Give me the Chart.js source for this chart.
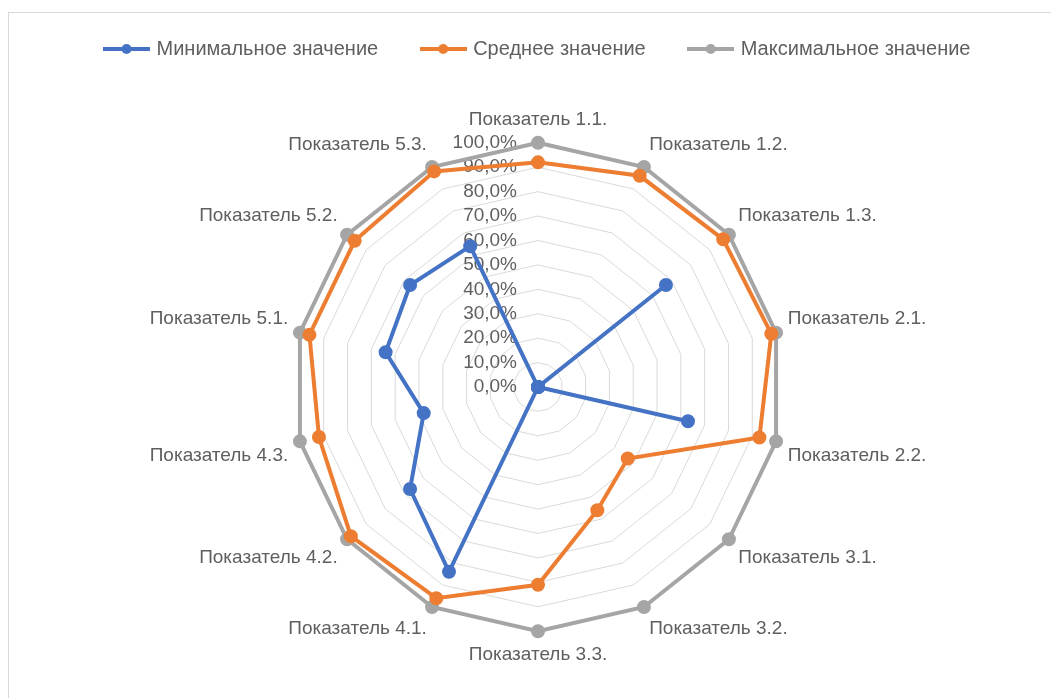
<!DOCTYPE html>
<html>
<head>
<meta charset="utf-8">
<script src="https://cdn.jsdelivr.net/npm/chart.js@4.4.1/dist/chart.umd.min.js"></script>
<style>
  html, body { margin: 0; padding: 0; background: #fff; overflow: hidden; }
  .frame { position: absolute; left: 8px; top: 12px; width: 2000px; height: 2000px; border: 1px solid #d9d9d9; }
  .wrap { position: absolute; left: 0; top: -6px; width: 1051px; height: 704px; }
</style>
</head>
<body>
<div class="frame"></div>
<div class="wrap"><canvas id="chart"></canvas></div>
<script>
const categories = [
  'Показатель 1.1.', 'Показатель 1.2.', 'Показатель 1.3.',
  'Показатель 2.1.', 'Показатель 2.2.',
  'Показатель 3.1.', 'Показатель 3.2.', 'Показатель 3.3.',
  'Показатель 4.1.', 'Показатель 4.2.', 'Показатель 4.3.',
  'Показатель 5.1.', 'Показатель 5.2.', 'Показатель 5.3.'
];
const minValues = [0, 0, 67, 0, 63, 0, 0, 0, 84, 67, 48, 64, 67, 64];
const avgValues = [92, 96, 97, 98, 93, 47, 56, 81, 96, 98, 92, 96, 96, 98];
const maxValues = [100, 100, 100, 100, 100, 100, 100, 100, 100, 100, 100, 100, 100, 100];
const seriesNames = ['Минимальное значение', 'Среднее значение', 'Максимальное значение'];
const seriesColors = ['#4472C4', '#ED7D31', '#A5A5A5'];

const fontFamily = '"Liberation Sans", Arial, sans-serif';
const textColor = '#5f5f5f';

// legend marker: line with a dot, like the office legend
function legendMarker(color) {
  const c = document.createElement('canvas');
  c.width = 47;
  c.height = 12;
  const g = c.getContext('2d');
  g.strokeStyle = color;
  g.lineWidth = 4;
  g.beginPath();
  g.moveTo(0, 6);
  g.lineTo(47, 6);
  g.stroke();
  g.fillStyle = color;
  g.beginPath();
  g.arc(23.5, 6, 5, 0, Math.PI * 2);
  g.fill();
  return c;
}

function formatPct(v) {
  return v.toFixed(1).replace('.', ',') + '%';
}

// tick labels sit left of the vertical axis, under the series lines
const tickLabels = {
  id: 'tickLabels',
  beforeDatasetsDraw(chart) {
    const s = chart.scales.r;
    const ctx = chart.ctx;
    ctx.save();
    ctx.font = '19px ' + fontFamily;
    ctx.fillStyle = textColor;
    ctx.textAlign = 'right';
    ctx.textBaseline = 'middle';
    s.ticks.forEach((t) => {
      const y = s.yCenter - s.getDistanceFromCenterForValue(t.value);
      ctx.fillText(formatPct(t.value), s.xCenter - 21, y);
    });
    ctx.restore();
  }
};

const values = [minValues, avgValues, maxValues];

const data = {
  labels: categories,
  datasets: values.map((v, i) => ({
    label: seriesNames[i],
    data: v,
    borderColor: seriesColors[i],
    backgroundColor: seriesColors[i],
    pointBackgroundColor: seriesColors[i],
    pointBorderColor: seriesColors[i],
    borderWidth: 4,
    pointRadius: 5,
    pointHoverRadius: 5,
    fill: false,
  })),
};

new Chart(document.getElementById('chart'), {
  type: 'radar',
  data: data,
  plugins: [tickLabels],
  options: {
    responsive: true,
    maintainAspectRatio: false,
    animation: false,
    layout: {
      padding: { top: 0, bottom: 32, left: 26, right: 0 },
    },
    plugins: {
      legend: {
        position: 'top',
        labels: {
          usePointStyle: true,
          pointStyleWidth: 40,
          padding: 45,
          color: textColor,
          font: { size: 20, family: fontFamily },
          generateLabels: (chart) =>
            chart.data.datasets.map((ds, i) => ({
              text: ds.label,
              pointStyle: legendMarker(seriesColors[i]),
              fillStyle: seriesColors[i],
              strokeStyle: seriesColors[i],
              lineWidth: 0,
              hidden: false,
              datasetIndex: i,
              fontColor: textColor,
            })),
        },
      },
      // empty title used as a gap between legend and plot
      title: {
        display: true,
        text: '',
        weight: 500,
        font: { size: 10, lineHeight: 1 },
        padding: { top: 29, bottom: 0 },
      },
      tooltip: { enabled: false },
    },
    scales: {
      r: {
        min: 0,
        max: 100,
        ticks: {
          stepSize: 10,
          display: false,
        },
        grid: {
          color: '#d9d9d9',
          lineWidth: 1,
        },
        angleLines: { display: false },
        pointLabels: {
          color: textColor,
          padding: 12,
          font: { size: 19, family: fontFamily },
        },
      },
    },
  },
});
</script>
</body>
</html>
